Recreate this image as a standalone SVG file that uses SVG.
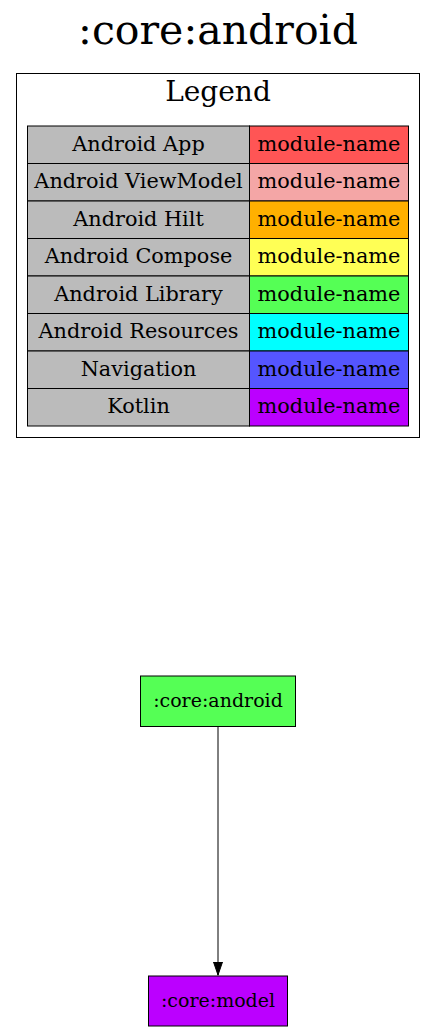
<svg xmlns="http://www.w3.org/2000/svg" width="436" height="1032" viewBox="0 0 436 1032">
<style>
text{font-family:"DejaVu Serif","Liberation Serif",serif;fill:#000;text-anchor:middle}
.title{font-size:41px}
.leg{font-size:28px}
.cell{font-size:20.8px}
.node{font-size:19px}
.b{stroke:#000;stroke-width:1}
.k{fill:#bbbbbb}
</style>
<defs>
<marker id="arr" markerWidth="14" markerHeight="10" refX="14" refY="5" orient="auto" markerUnits="userSpaceOnUse" viewBox="0 0 14 10">
<path d="M0.5,0.5 L13.5,5 L0.5,9.5 Z" fill="#000" stroke="#000" stroke-width="1"/>
</marker>
</defs>
<rect width="436" height="1032" fill="#fff"/>
<text class="title" x="218" y="44">:core:android</text>
<g id="legend">
<rect class="b" x="16.5" y="73.5" width="403" height="364" fill="#fff"/>
<text class="leg" x="218" y="100.5">Legend</text>
<rect class="b k" x="27.5" y="126" width="222" height="37.5"/>
<rect class="b" x="249.5" y="126" width="159" height="37.5" fill="#ff5555"/>
<text class="cell" x="138.5" y="150.7">Android App</text>
<text class="cell" x="329" y="150.7">module-name</text>
<rect class="b k" x="27.5" y="163.5" width="222" height="37.5"/>
<rect class="b" x="249.5" y="163.5" width="159" height="37.5" fill="#f4a6a6"/>
<text class="cell" x="138.5" y="188.2">Android ViewModel</text>
<text class="cell" x="329" y="188.2">module-name</text>
<rect class="b k" x="27.5" y="201" width="222" height="37.5"/>
<rect class="b" x="249.5" y="201" width="159" height="37.5" fill="#ffb000"/>
<text class="cell" x="138.5" y="225.7">Android Hilt</text>
<text class="cell" x="329" y="225.7">module-name</text>
<rect class="b k" x="27.5" y="238.5" width="222" height="37.5"/>
<rect class="b" x="249.5" y="238.5" width="159" height="37.5" fill="#ffff55"/>
<text class="cell" x="138.5" y="263.2">Android Compose</text>
<text class="cell" x="329" y="263.2">module-name</text>
<rect class="b k" x="27.5" y="276" width="222" height="37.5"/>
<rect class="b" x="249.5" y="276" width="159" height="37.5" fill="#55ff55"/>
<text class="cell" x="138.5" y="300.7">Android Library</text>
<text class="cell" x="329" y="300.7">module-name</text>
<rect class="b k" x="27.5" y="313.5" width="222" height="37.5"/>
<rect class="b" x="249.5" y="313.5" width="159" height="37.5" fill="#00ffff"/>
<text class="cell" x="138.5" y="338.2">Android Resources</text>
<text class="cell" x="329" y="338.2">module-name</text>
<rect class="b k" x="27.5" y="351" width="222" height="37.5"/>
<rect class="b" x="249.5" y="351" width="159" height="37.5" fill="#5555ff"/>
<text class="cell" x="138.5" y="375.7">Navigation</text>
<text class="cell" x="329" y="375.7">module-name</text>
<rect class="b k" x="27.5" y="388.5" width="222" height="37.5"/>
<rect class="b" x="249.5" y="388.5" width="159" height="37.5" fill="#bb00ff"/>
<text class="cell" x="138.5" y="413.2">Kotlin</text>
<text class="cell" x="329" y="413.2">module-name</text>
</g>
<g id="edges">
<path d="M218,726.5 L218,975.5" fill="none" stroke="#000" stroke-width="1" marker-end="url(#arr)"/>
</g>
<g id="node-core-android">
<rect class="b" x="140.5" y="676" width="155" height="50.5" fill="#55ff55"/>
<text class="node" x="218" y="706.7">:core:android</text>
</g>
<g id="node-core-model">
<rect class="b" x="148.5" y="976" width="139" height="50" fill="#bb00ff"/>
<text class="node" x="218" y="1006.7">:core:model</text>
</g>
</svg>
